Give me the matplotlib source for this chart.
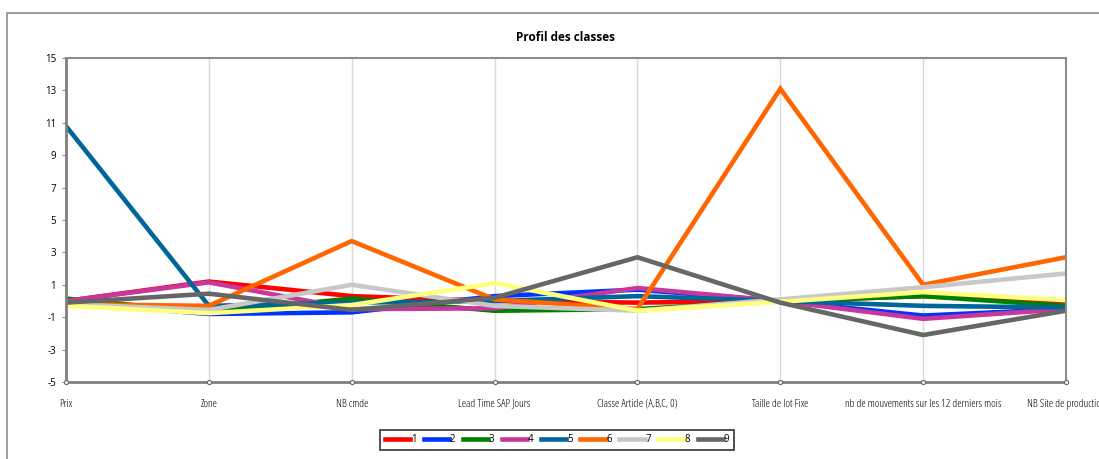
import numpy as np
import matplotlib.pyplot as plt
from matplotlib.patches import Rectangle

categories = ["Prix", "Zone", "NB cmde", "Lead Time SAP Jours", "Classe Article (A,B,C, 0)",
              "Taille de lot Fixe", "nb de mouvements sur les 12 derniers mois",
              "NB Site de production"]

classe_1 = [0.0, 1.2, 0.3, 0.0, -0.1, 0.0, 0.3, -0.1]
classe_2 = [-0.1, -0.8, -0.7, 0.3, 0.7, 0.0, -0.9, -0.5]
classe_3 = [0.15, -0.7, 0.15, -0.6, -0.5, 0.0, 0.3, -0.3]
classe_4 = [0.0, 1.15, -0.5, -0.45, 0.8, 0.0, -1.1, -0.5]
classe_5 = [10.8, -0.3, -0.1, 0.0, 0.3, 0.0, -0.3, -0.4]
classe_6 = [-0.2, -0.3, 3.7, 0.1, -0.5, 13.1, 1.0, 2.7]
classe_7 = [-0.2, -0.55, 1.0, -0.3, -0.6, 0.1, 0.85, 1.7]
classe_8 = [-0.3, -0.75, -0.25, 1.1, -0.6, -0.05, 0.55, 0.05]
classe_9 = [-0.1, 0.45, -0.55, 0.2, 2.7, -0.1, -2.1, -0.6]

series = [classe_1, classe_2, classe_3, classe_4, classe_5, classe_6, classe_7, classe_8, classe_9]
names = ["1", "2", "3", "4", "5", "6", "7", "8", "9"]
colors = ["#FF0000", "#0033FF", "#008000", "#C8379B", "#006699",
          "#FF6600", "#C8C8C8", "#FFFF80", "#666666"]

plt.rcParams['font.family'] = ['Open Sans', 'DejaVu Sans']
plt.rcParams['axes.unicode_minus'] = False

fig = plt.figure(figsize=(10.99, 4.59), dpi=100)
# outer chart border
fig.patches.append(Rectangle((7 / 1099, -0.1), 1.2, 1 - 13 / 459 + 0.1, transform=fig.transFigure,
                             fill=False, edgecolor="#8C8C8C", linewidth=1.2))

ax = fig.add_axes([66 / 1099, 1 - 382 / 459, 1000 / 1099, 324 / 459])
x = np.arange(len(categories))
for vals, name, col in zip(series, names, colors):
    ax.plot(x, vals, color=col, linewidth=3.3, label=name, solid_joinstyle="miter")

ax.set_xlim(x[0], x[-1])
ax.set_ylim(-5, 15)
ax.set_yticks(np.arange(-5, 16, 2))
ax.set_xticks(x)
ax.set_xticklabels(categories, fontsize=8, stretch="condensed")
ax.tick_params(axis="y", labelsize=7, length=3, color="#888888", pad=4)
ax.tick_params(axis="x", length=0, pad=12)
ax.grid(axis="x", color="#D9D9D9", linewidth=1)
ax.set_axisbelow(True)
for s in ["left", "bottom"]:
    ax.spines[s].set_color("#7F7F7F")
    ax.spines[s].set_linewidth(2)
for s in ["top", "right"]:
    ax.spines[s].set_color("#8C8C8C")
    ax.spines[s].set_linewidth(1.5)

# little circles at the category ticks
ax.plot(x, np.full(len(x), ax.get_ylim()[0]), linestyle="none", marker="o", markersize=3,
        markerfacecolor="white", markeredgecolor="#666666", markeredgewidth=0.8, clip_on=False, zorder=5)

ax.set_title("Profil des classes", fontsize=8.5, fontweight="bold", pad=12, stretch="condensed")

leg = fig.legend(loc="center", bbox_to_anchor=(557 / 1099, 1 - 440 / 459), ncol=9, fontsize=7,
                 frameon=True, fancybox=False, edgecolor="black", handlelength=2.6,
                 handletextpad=0.1, columnspacing=0.75, borderpad=0.5)
leg.get_frame().set_linewidth(1.2)
for line in leg.get_lines():
    line.set_linewidth(3.3)

fig.savefig("out.png", dpi=100)
